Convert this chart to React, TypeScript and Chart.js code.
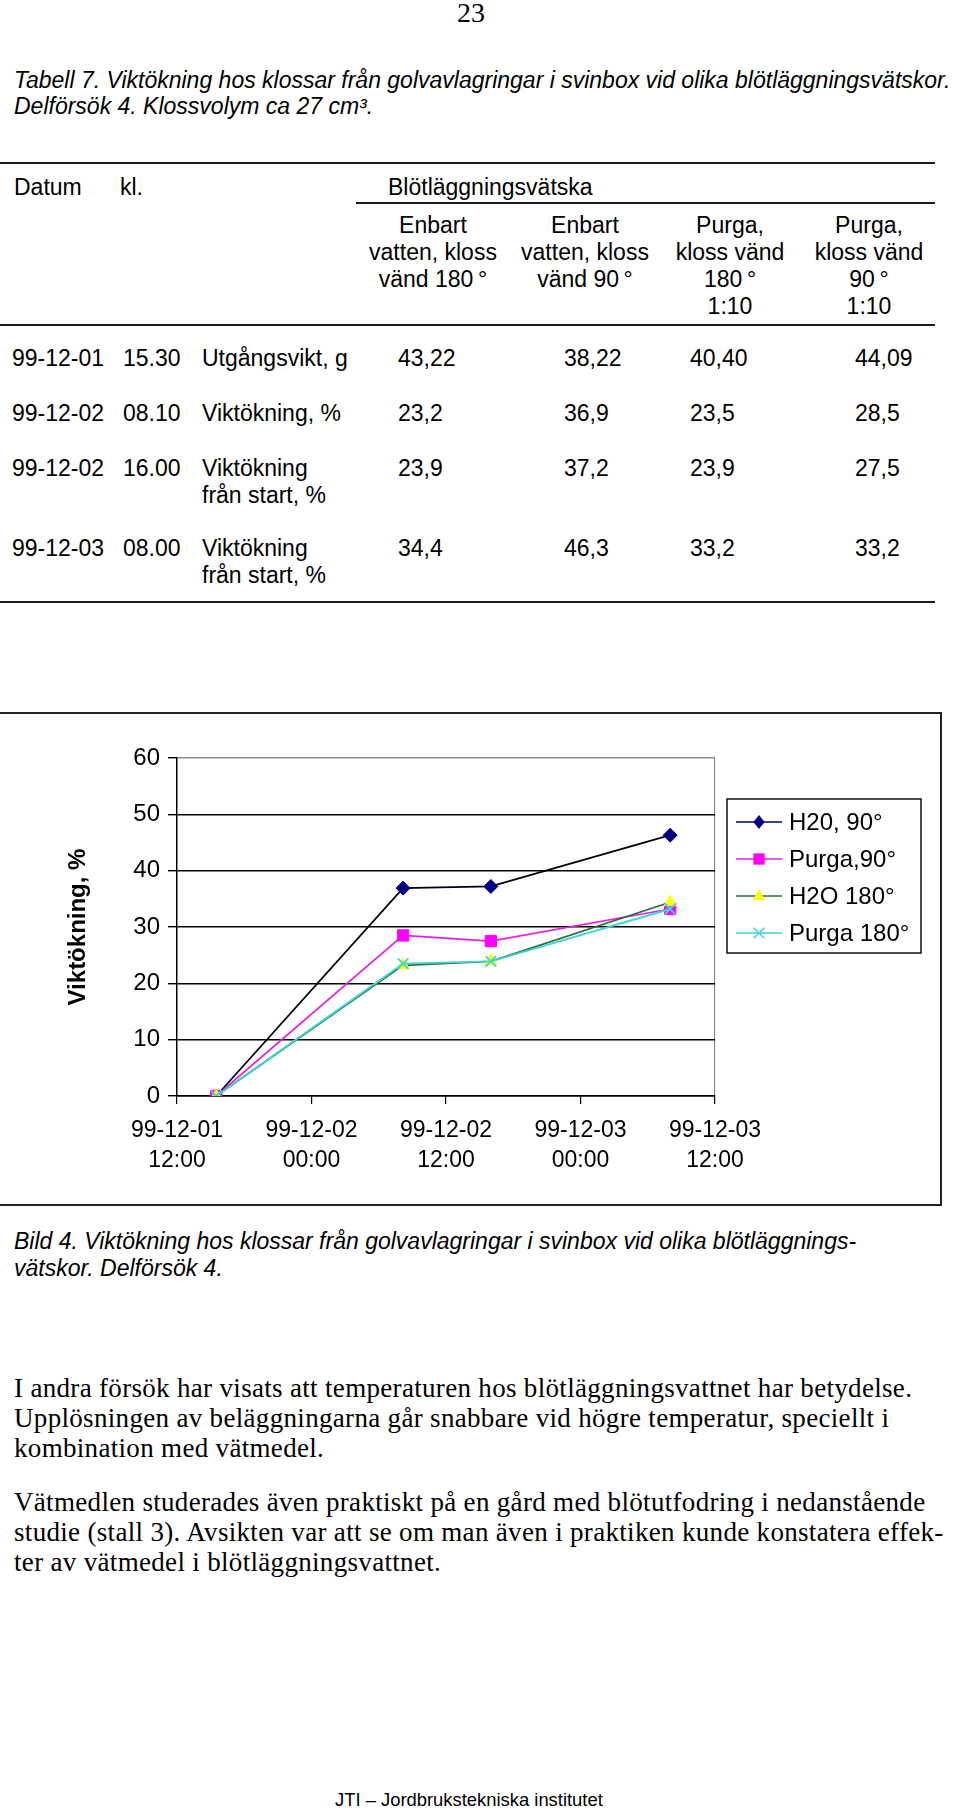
import React, { useEffect, useRef } from "react";
import { Chart, registerables } from "chart.js";

Chart.register(...registerables);

// ---------- data ----------
const timeLabels = ["99-12-01 15:30", "99-12-02 08:10", "99-12-02 16:00", "99-12-03 08:00"];
const seriesNames = ["H20, 90°", "Purga,90°", "H2O 180°", "Purga 180°"];
const h2o90 = [0, 36.9, 37.2, 46.3];
const purga90 = [0, 28.5, 27.5, 33.2];
const h2o180 = [0, 23.2, 23.9, 34.4];
const purga180 = [0, 23.5, 23.9, 33.2];
const xTickLabels = [
  ["99-12-01", "12:00"],
  ["99-12-02", "00:00"],
  ["99-12-02", "12:00"],
  ["99-12-03", "00:00"],
  ["99-12-03", "12:00"],
];
const yTickValues = [0, 10, 20, 30, 40, 50, 60];

const colHeaders = [
  ["Enbart", "vatten, kloss", "vänd 180\u2009°"],
  ["Enbart", "vatten, kloss", "vänd 90\u2009°"],
  ["Purga,", "kloss vänd", "180\u2009°", "1:10"],
  ["Purga,", "kloss vänd", "90\u2009°", "1:10"],
];
const rowDates = ["99-12-01", "99-12-02", "99-12-02", "99-12-03"];
const rowTimes = ["15.30", "08.10", "16.00", "08.00"];
const rowLabels = [["Utgångsvikt, g"], ["Viktökning, %"], ["Viktökning", "från start, %"], ["Viktökning", "från start, %"]];
const colVatten180 = ["43,22", "23,2", "23,9", "34,4"];
const colVatten90 = ["38,22", "36,9", "37,2", "46,3"];
const colPurga180 = ["40,40", "23,5", "23,9", "33,2"];
const colPurga90 = ["44,09", "28,5", "27,5", "33,2"];

// ---------- helpers ----------
const SANS = "'Liberation Sans', Arial, Helvetica, sans-serif";
const SERIF = "'Liberation Serif', 'Times New Roman', serif";

function hoursFromStart(label: string): number {
  const [d, t] = label.split(" ");
  const day = parseInt(d.split("-")[2], 10);
  const [hh, mm] = t.split(":").map((v) => parseInt(v, 10));
  return (day - 1) * 24 + hh + mm / 60;
}

function drawMarker(ctx: CanvasRenderingContext2D, style: string, x: number, y: number, r: number, fill: string, stroke: string) {
  ctx.save();
  ctx.fillStyle = fill;
  ctx.strokeStyle = stroke;
  ctx.lineWidth = 1.6;
  ctx.beginPath();
  if (style === "rectRot") {
    ctx.moveTo(x, y - r);
    ctx.lineTo(x + r * 0.8, y);
    ctx.lineTo(x, y + r);
    ctx.lineTo(x - r * 0.8, y);
    ctx.closePath();
    ctx.fill();
  } else if (style === "rect") {
    const s = r * Math.SQRT1_2;
    ctx.rect(x - s, y - s, 2 * s, 2 * s);
    ctx.fill();
  } else if (style === "triangle") {
    ctx.moveTo(x, y - r);
    ctx.lineTo(x + r * 0.87, y + r * 0.6);
    ctx.lineTo(x - r * 0.87, y + r * 0.6);
    ctx.closePath();
    ctx.fill();
  } else {
    const s = r * Math.SQRT1_2;
    ctx.moveTo(x - s, y - s);
    ctx.lineTo(x + s, y + s);
    ctx.moveTo(x + s, y - s);
    ctx.lineTo(x - s, y + s);
    ctx.stroke();
  }
  ctx.restore();
}

const legendPlugin = {
  id: "boxLegend",
  afterDraw(chart: any) {
    const ctx = chart.ctx as CanvasRenderingContext2D;
    const bx = 727, by = 99, bw = 194, bh = 154;
    ctx.save();
    ctx.strokeStyle = "#111";
    ctx.lineWidth = 1.5;
    ctx.strokeRect(bx, by, bw, bh);
    ctx.font = `24px ${SANS}`;
    ctx.textBaseline = "middle";
    ctx.fillStyle = "#000";
    chart.data.datasets.forEach((ds: any, i: number) => {
      const y = by + 23 + i * 37;
      ctx.strokeStyle = ds.legendLine || ds.borderColor;
      ctx.lineWidth = 1.6;
      ctx.beginPath();
      ctx.moveTo(bx + 9, y);
      ctx.lineTo(bx + 55, y);
      ctx.stroke();
      drawMarker(ctx, ds.pointStyle, bx + 32, y, ds.pointRadius, ds.pointBackgroundColor, ds.pointBorderColor);
      ctx.fillStyle = "#000";
      ctx.fillText(ds.label, bx + 62, y + 1);
    });
    ctx.restore();
  },
};

function ChartBox() {
  const ref = useRef<HTMLCanvasElement>(null);
  useEffect(() => {
    if (!ref.current) return;
    Chart.defaults.font.family = SANS;
    const xs = timeLabels.map(hoursFromStart);
    const mk = (vals: number[]) => vals.map((v, i) => ({ x: xs[i], y: v }));
    const chart = new Chart(ref.current, {
      type: "line",
      data: {
        datasets: [
          {
            label: seriesNames[0], data: mk(h2o90), borderColor: "#000010", legendLine: "#000060",
            borderWidth: 1.7, pointStyle: "rectRot", pointRadius: 7,
            pointBackgroundColor: "#000080", pointBorderColor: "#000080", pointBorderWidth: 1, order: 3,
          },
          {
            label: seriesNames[1], data: mk(purga90), borderColor: "#E61EE6",
            borderWidth: 1.7, pointStyle: "rect", pointRadius: 8,
            pointBackgroundColor: "#FF00FF", pointBorderColor: "#FF00FF", pointBorderWidth: 1, order: 2,
          },
          {
            label: seriesNames[2], data: mk(h2o180), borderColor: "#2E6B3A",
            borderWidth: 1.7, pointStyle: "triangle", pointRadius: 7,
            pointBackgroundColor: "#FFFF00", pointBorderColor: "#FFFF00", pointBorderWidth: 1, order: 1,
          },
          {
            label: seriesNames[3], data: mk(purga180), borderColor: "#3DD5D5",
            borderWidth: 1.9, pointStyle: "crossRot", pointRadius: 7.5,
            pointBackgroundColor: "#3DD5D5", pointBorderColor: "#3DD5D5", pointBorderWidth: 1.8, order: 0,
          },
        ] as any,
      },
      options: {
        animation: false,
        responsive: false,
        maintainAspectRatio: false,
        layout: { padding: { left: 50, right: 245, top: 58, bottom: 0 } },
        plugins: { legend: { display: false }, tooltip: { enabled: false } },
        scales: {
          x: {
            type: "linear",
            min: 12,
            max: 60,
            afterBuildTicks: (s: any) => {
              s.ticks = xTickLabels.map((_, i) => ({ value: 12 + i * 12 }));
            },
            ticks: {
              stepSize: 12,
              autoSkip: false,
              maxRotation: 0,
              color: "#000",
              padding: 12,
              font: { size: 23, lineHeight: 1.3 },
              callback: (_v: any, i: number) => xTickLabels[i],
            },
            grid: {
              color: (c: any) => (c.tick && c.tick.value === 60 ? "#8a8a8a" : "rgba(0,0,0,0)"),
              tickColor: "#000",
              tickLength: 8,
              lineWidth: 1.2,
            },
            border: { color: "#000", width: 1.5 },
            afterFit: (s: any) => {
              s.height = 124;
            },
          },
          y: {
            min: 0,
            max: 60,
            afterBuildTicks: (s: any) => {
              s.ticks = yTickValues.map((v) => ({ value: v }));
            },
            ticks: { color: "#000", padding: 8, font: { size: 24 } },
            grid: {
              color: (c: any) => (c.tick && c.tick.value === 60 ? "#8a8a8a" : "#000"),
              tickColor: "#000",
              tickLength: 9,
              lineWidth: 1.4,
            },
            border: { color: "#000", width: 1.5 },
            title: {
              display: true,
              text: "Viktökning, %",
              color: "#000",
              font: { size: 24, weight: "bold" },
              padding: { top: 14, bottom: 0 },
            },
            afterFit: (s: any) => {
              s.width = 127;
            },
          },
        },
      } as any,
      plugins: [legendPlugin],
    });
    return () => chart.destroy();
  }, []);
  return (
    <canvas
      ref={ref}
      width={960}
      height={520}
      style={{ position: "absolute", left: 0, top: 700, width: 960, height: 520 }}
    />
  );
}

function T(props: { x: number; y: number; size?: number; italic?: boolean; serif?: boolean; lh?: number; ls?: number; lines: string[]; align?: "left" | "center"; w?: number }) {
  const { x, y, size = 23, italic, serif, lh = 27, ls = 0, lines, align = "left", w } = props;
  const style: React.CSSProperties = {
    position: "absolute",
    top: y,
    left: align === "center" ? x - (w || 200) / 2 : x,
    width: align === "center" ? w || 200 : undefined,
    textAlign: align,
    fontFamily: serif ? SERIF : SANS,
    fontStyle: italic ? "italic" : "normal",
    fontSize: size,
    lineHeight: `${lh}px`,
    letterSpacing: ls,
    whiteSpace: "pre",
    color: "#000",
  };
  return (
    <div style={style}>
      {lines.map((l, i) => (
        <div key={i}>{l}</div>
      ))}
    </div>
  );
}

function Rule(props: { x1: number; x2: number; y: number }) {
  return (
    <div
      style={{ position: "absolute", left: props.x1, top: props.y - 1, width: props.x2 - props.x1, height: 2, background: "#1a1a1a" }}
    />
  );
}

export default function App() {
  const rowTops = [345, 400, 455, 535];
  const valX = [398, 564, 690, 855];
  const valCols = [colVatten180, colVatten90, colPurga180, colPurga90];
  const headCenters = [433, 585, 730, 869];
  return (
    <div style={{ position: "absolute", left: 0, top: 0, width: 960, height: 1813, background: "#fff", overflow: "hidden" }}>
      <T x={471} y={-3} size={28} serif lh={31} align="center" w={80} lines={["23"]} />
      <T x={14} y={67} italic lh={26} lines={[
        "Tabell 7. Viktökning hos klossar från golvavlagringar i svinbox vid olika blötläggningsvätskor.",
        "Delförsök 4. Klossvolym ca 27 cm³.",
      ]} />

      <Rule x1={0} x2={935} y={163} />
      <T x={14} y={174} lines={["Datum"]} />
      <T x={120} y={174} lines={["kl."]} />
      <T x={388} y={174} lines={["Blötläggningsvätska"]} />
      <Rule x1={356} x2={935} y={203} />
      {colHeaders.map((h, i) => (
        <T key={i} x={headCenters[i]} y={212} align="center" w={170} lines={h} />
      ))}
      <Rule x1={0} x2={935} y={325} />

      {rowDates.map((d, r) => (
        <React.Fragment key={r}>
          <T x={12} y={rowTops[r]} lines={[d]} />
          <T x={123} y={rowTops[r]} lines={[rowTimes[r]]} />
          <T x={202} y={rowTops[r]} lines={rowLabels[r]} />
          {valCols.map((c, k) => (
            <T key={k} x={valX[k]} y={rowTops[r]} lines={[c[r]]} />
          ))}
        </React.Fragment>
      ))}
      <Rule x1={0} x2={935} y={602} />

      <div style={{ position: "absolute", left: -10, top: 712, width: 952, height: 494, border: "2px solid #222", boxSizing: "border-box" }} />
      <ChartBox />

      <T x={14} y={1228} italic lines={[
        "Bild 4. Viktökning hos klossar från golvavlagringar i svinbox vid olika blötläggnings-",
        "vätskor. Delförsök 4.",
      ]} />

      <T x={14} y={1373} size={27} serif lh={30} ls={0.32} lines={[
        "I andra försök har visats att temperaturen hos blötläggningsvattnet har betydelse.",
        "Upplösningen av beläggningarna går snabbare vid högre temperatur, speciellt i",
        "kombination med vätmedel.",
      ]} />
      <T x={14} y={1487} size={27} serif lh={30} ls={0.32} lines={[
        "Vätmedlen studerades även praktiskt på en gård med blötutfodring i nedanstående",
        "studie (stall 3). Avsikten var att se om man även i praktiken kunde konstatera effek-",
        "ter av vätmedel i blötläggningsvattnet.",
      ]} />

      <T x={335} y={1789} size={18.4} lh={22} lines={["JTI – Jordbrukstekniska institutet"]} />
    </div>
  );
}
